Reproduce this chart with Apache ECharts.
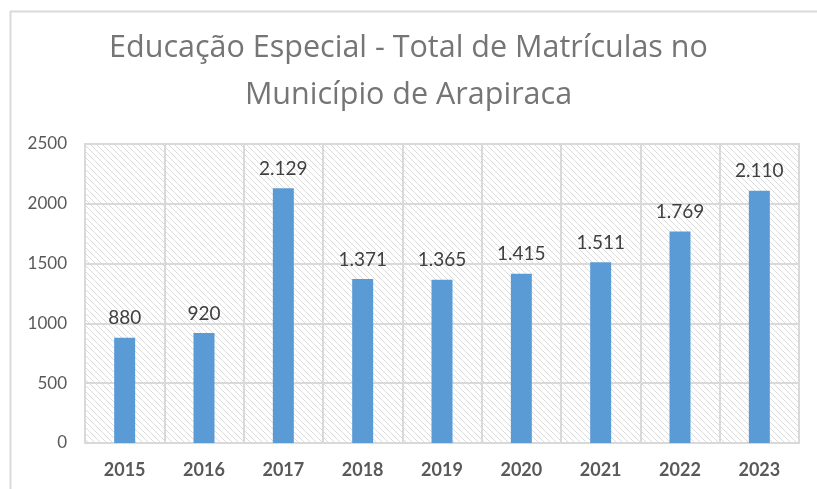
<!DOCTYPE html>
<html><head><meta charset="utf-8">
<script src="https://cdn.jsdelivr.net/npm/echarts@6/dist/echarts.min.js"></script>
<style>html,body{margin:0;padding:0;background:#fff}#c{width:817px;height:489px}</style>
</head><body><div id="c"></div>
<script>
const categories = ['2015','2016','2017','2018','2019','2020','2021','2022','2023'];
const values = [880, 920, 2129, 1371, 1365, 1415, 1511, 1769, 2110];
const titleLines = ['Educação Especial - Total de Matrículas no', 'Município de Arapiraca'];

function hatch(){
  const s = 6, c = document.createElement('canvas');
  c.width = s; c.height = s;
  const g = c.getContext('2d');
  g.strokeStyle = '#dcdcdc'; g.lineWidth = 1;
  g.beginPath();
  for (let k=-1;k<=1;k++){ g.moveTo(k*s, 0); g.lineTo(k*s+s, s); }
  g.stroke();
  return c;
}
function fmt(v){ return String(v).replace(/\B(?=(\d{3})+(?!\d))/g, '.'); }

const titleStyle = { fontFamily:'Open Sans', fontWeight:'normal', fontSize:30.5, color:'#757575' };
const chart = echarts.init(document.getElementById('c'), null, {renderer:'canvas'});
chart.setOption({
  animation:false,
  backgroundColor:'#fff',
  title: titleLines.map((t,i)=>({ text:t, left:'center', top:33+i*47, padding:0, textStyle:titleStyle })),
  graphic:[
    {type:'line', shape:{x1:10,y1:11.5,x2:817,y2:11.5}, style:{stroke:'#d9d9d9', lineWidth:2}},
    {type:'line', shape:{x1:10.5,y1:11,x2:10.5,y2:489}, style:{stroke:'#d9d9d9', lineWidth:2}}
  ],
  grid:{ left:85, right:18, top:144, bottom:46, show:true,
    backgroundColor:{ image:hatch(), repeat:'repeat' }, borderColor:'#d9d9d9', borderWidth:2 },
  xAxis:{ type:'category', data:categories,
    axisLine:{ show:true, lineStyle:{ color:'#d9d9d9', width:2 } },
    axisTick:{ show:false },
    splitLine:{ show:true, interval:0, lineStyle:{ color:'#d9d9d9', width:2 } },
    axisLabel:{ fontFamily:'Lato', fontWeight:'bold', fontSize:18, color:'#595959', margin:18 } },
  yAxis:{ type:'value', min:0, max:2500, interval:500,
    axisLine:{ show:false }, axisTick:{ show:false },
    splitLine:{ lineStyle:{ color:'#d9d9d9', width:2 } },
    axisLabel:{ fontFamily:'Lato', fontSize:17, color:'#595959', margin:18, formatter:v=>String(v) } },
  series:[{ type:'bar', data:values, barWidth:21,
    itemStyle:{ color:'#5b9bd5' },
    label:{ show:true, position:'top', distance:10, formatter:p=>fmt(p.value),
      fontFamily:'Lato', fontSize:19, color:'#404040' } }]
});
</script></body></html>
